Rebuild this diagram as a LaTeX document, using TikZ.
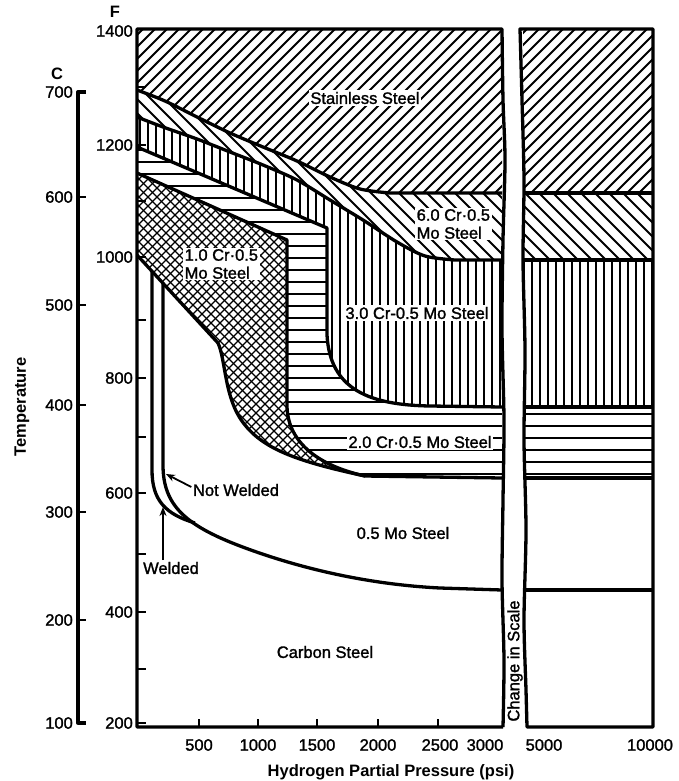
\documentclass[tikz,border=0pt]{standalone}
\usepackage{fontspec}
\setmainfont{Liberation Sans}
\newfontfamily\medfont{Liberation Sans}[FakeBold=1.5]
\usetikzlibrary{arrows.meta}

\begin{document}
\begin{tikzpicture}[x=1pt,y=-1pt,
  bound/.style={line width=3.3pt, line join=round},
  hatch/.style={line width=2.1pt},
  cross/.style={line width=1.35pt},
  tick/.style={line width=2.6pt},
  lbl/.style={fill=white, inner sep=1.5pt, font=\fontsize{16.5}{18}\medfont},
  num/.style={inner sep=0pt, font=\fontsize{16.5}{18}\medfont},
  ttl/.style={inner sep=0pt, font=\fontsize{16.5}{18}\selectfont\bfseries}]

  \useasboundingbox (0,0) rectangle (679,781);

  % stainless steel
  \begin{scope}
    \clip (137,29) -- (502,29) -- (502,193)
      -- plot[smooth] coordinates {(390,193) (360,189) (330,177) (297,161) (263,147) (230,133) (197,117) (165,101) (137,90)} -- cycle
      (523,29) rectangle (653,193);
    \foreach \k in {-40,-28,...,650}
      \draw[hatch] (\k,200) -- ++(200,-200);
  \end{scope}

  % 6.0 Cr
  \begin{scope}
    \clip plot[smooth] coordinates {(137,90) (165,101) (197,117) (230,133) (263,147) (297,161) (330,177) (360,189) (390,193)}
      -- (502,193) -- (502,260)
      -- plot[smooth] coordinates {(455,260) (425,256) (397,242) (363,220) (330,200) (297,180) (263,165) (230,152) (197,139) (163,127) (137,117)} -- cycle
      (523,193) rectangle (653,260);
    \foreach \k in {10,24,...,470}
      \draw[hatch] (\k,0) -- ++(400,400);
  \end{scope}

  % 3.0 Cr
  \begin{scope}
    \clip plot[smooth] coordinates {(137,117) (163,127) (197,139) (230,152) (263,165) (297,180) (330,200) (363,220) (397,242) (425,256) (455,260)}
      -- (502,260) -- (502,407) -- (430,406) .. controls (370,405) and (330,390) .. (327,335)
      -- (327,228) -- (137,147) -- cycle
      (524,260) rectangle (653,407);
    \foreach \k in {140,148,...,652}
      \draw[hatch] (\k,100) -- (\k,420);
  \end{scope}

  % 2.0 Cr
  \begin{scope}
    \clip (137,147) -- (327,228) -- (327,335) .. controls (330,390) and (370,405) .. (430,406)
      -- (502,407) -- (502,478) -- (365,476) .. controls (315,465) and (287,440) .. (287,405)
      -- (287,240) -- (137,173) -- cycle
      (524,407) rectangle (653,478);
    \foreach \k in {150,162,...,480}
      \draw[hatch] (130,\k) -- (660,\k);
  \end{scope}

  % 1.0 Cr
  \begin{scope}
    \clip (137,173) -- (287,240) -- (287,405) .. controls (287,440) and (315,465) .. (365,476)
      .. controls (300,462) and (265,450) .. (245,425) .. controls (224,400) and (226,360) .. (218,343)
      -- (137,255) -- cycle;
    \foreach \k in {300,309,...,850}
      \draw[cross] (\k,0) -- ++(-500,500);
    \foreach \k in {-220,-211,...,60}
      \draw[cross] (\k,0) -- ++(500,500);
  \end{scope}

  % labels
  \node[lbl] (ss) at (365,98) {Stainless Steel};
  \node[lbl, anchor=west, align=left] (cr6) at (415,224) {6.0 Cr·0.5\\Mo Steel};
  \node[lbl] (cr3) at (417,313) {3.0 Cr-0.5 Mo Steel};
  \node[lbl] (cr2) at (420,442) {2.0 Cr·0.5 Mo Steel};
  \node[lbl, anchor=west, align=left] (cr1) at (183,264) {1.0 Cr·0.5\\Mo Steel};
  \node[lbl] (mo) at (403,533) {0.5 Mo Steel};
  \node[lbl] (cs) at (325,652) {Carbon Steel};
  \node[lbl] (notwelded) at (236,490) {Not Welded};
  \node[lbl] (welded) at (171,568) {Welded};
  \node[lbl, rotate=90] (scale) at (515,661) {Change in Scale};

  % boundaries
  \draw[bound] plot[smooth] coordinates {(137,90) (165,101) (197,117) (230,133) (263,147) (297,161) (330,177) (360,189) (390,193)} -- (502,193);
  \draw[bound] plot[smooth] coordinates {(137,117) (163,127) (197,139) (230,152) (263,165) (297,180) (330,200) (363,220) (397,242) (425,256) (455,260)} -- (502,260);
  \draw[bound] (137,147) -- (327,228) -- (327,335) .. controls (330,390) and (370,405) .. (430,406) -- (502,407);
  \draw[bound] (137,173) -- (287,240) -- (287,405) .. controls (287,440) and (315,465) .. (365,476);
  \draw[bound] (137,255) -- (218,343) .. controls (226,360) and (224,400) .. (245,425)
    .. controls (265,450) and (300,462) .. (365,476) -- (502,478);
  \draw[bound] (523,193) -- (653,193) (523,260) -- (653,260) (524,407) -- (653,407)
    (525,478) -- (653,478) (525,590) -- (653,590);

  % welded, not welded
  \draw[bound] (152,271) -- (152,470) .. controls (152,500) and (165,514) .. (195,523);
  \draw[bound] (163,283) -- (163,465) .. controls (163,505) and (185,525) .. (240,546)
    .. controls (290,565) and (360,584) .. (440,588) -- (502,590);
  \coordinate (nwtip) at (166,474);
  \coordinate (wtip) at (163,507);
  \draw[line width=1.8pt, -{Stealth[length=9pt,width=7pt]}] ([yshift=3pt]notwelded.west) -- (nwtip);
  \draw[line width=1.8pt, -{Stealth[length=9pt,width=7pt]}] (welded.north -| wtip) -- (wtip);

  % frame
  \draw[bound] (503,727) -- (137,727) -- (137,29) -- (502,29)
    -- plot[smooth] coordinates {(502,29) (503,100) (505,160) (503,240) (502,330) (504,420) (503,500) (502,580) (504,660) (503,727)};
  \draw[bound] plot[smooth] coordinates {(527,727) (526,690) (524,620) (526,530) (524,440) (525,350) (523,260) (524,180) (522,100) (520,29)}
    -- (653,29) -- (653,727) -- cycle;

  % F axis
  \foreach \y in {29,87,145,201,257,320,378,437,493,554,612,669,723}
    \draw[tick] (137,\y) -- (146,\y);
  \foreach \v/\y in {1400/31,1200/145,1000/257,800/378,600/493,400/612,200/723}
    \node[num, anchor=east] (f\v) at (133,\y) {\v};
  \node[ttl] (funit) at (115,12) {F};

  % C axis
  \draw[bound] (86,92) -- (78,92) -- (78,723) -- (86,723);
  \foreach \y in {197,305,405,512,620}
    \draw[tick] (78,\y) -- (86,\y);
  \foreach \v/\y in {700/92,600/197,500/305,400/405,300/512,200/620,100/723}
    \node[num, anchor=east] (c\v) at (73,\y) {\v};
  \node[ttl] (cunit) at (57,74) {C};
  \node[ttl, rotate=90] (temp) at (22,407) {Temperature};

  % pressure axis
  \foreach \x in {199,258,317,378,438}
    \draw[tick] (\x,727) -- (\x,719);
  \foreach \v/\x in {500/199,1000/258,1500/317,2000/378,2500/440,3000/485,5000/544,10000/650}
    \node[num] (p\v) at (\x,745) {\v};
  \node[ttl] (press) at (391,772) {Hydrogen Partial Pressure (psi)};
\end{tikzpicture}
\end{document}
